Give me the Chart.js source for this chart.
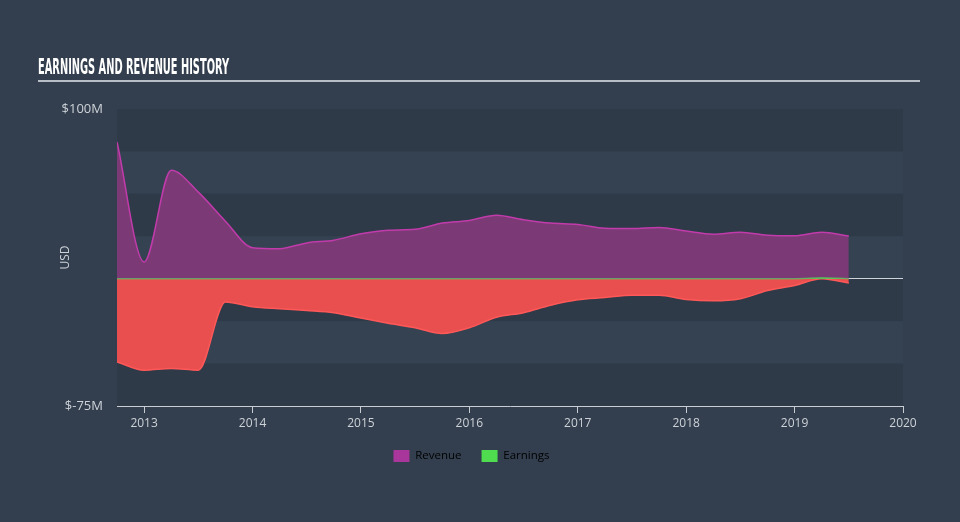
<!DOCTYPE html>
<html>
<head>
<meta charset="utf-8">
<script src="https://cdn.jsdelivr.net/npm/chart.js@4.4.1/dist/chart.umd.min.js"></script>
<style>
  body { margin: 0; background: #333f4e; }
  #wrap { position: relative; width: 960px; height: 522px; }
  canvas { position: absolute; left: 0; top: 0; }
  #title {
    position: absolute; left: 38px; top: 57px;
    font: bold 21px "Liberation Sans Narrow", "DejaVu Sans Condensed", sans-serif;
    line-height: 21px; color: #ffffff; white-space: nowrap;
    transform-origin: left top;
  }
  #rule { position: absolute; left: 38px; top: 80px; width: 882px; height: 2px; background: #b9bfc7; }
</style>
</head>
<body>
<div id="wrap">
  <canvas id="chart" width="960" height="522"></canvas>
  <div id="title">EARNINGS AND REVENUE HISTORY</div>
  <div id="rule"></div>
</div>
<script>
// quarter ends as decimal years
const quarters = [2012.75, 2013.0, 2013.25, 2013.5, 2013.75, 2014.0, 2014.25, 2014.5, 2014.75,
  2015.0, 2015.25, 2015.5, 2015.75, 2016.0, 2016.25, 2016.5, 2016.75,
  2017.0, 2017.25, 2017.5, 2017.75, 2018.0, 2018.25, 2018.5, 2018.75,
  2019.0, 2019.25, 2019.5];

// USD millions
const revenue = [80.6, 9.9, 63.9, 51.0, 33.9, 18.3, 17.7, 21.1, 22.7,
  26.5, 28.6, 29.1, 32.8, 34.3, 37.4, 34.8, 32.8,
  32.0, 29.8, 29.6, 30.2, 28.1, 26.2, 27.4, 25.6,
  25.3, 27.4, 25.2];

const earnings = [-49.0, -53.9, -52.9, -53.9, -13.7, -16.5, -17.7, -18.7, -20.0,
  -23.2, -26.2, -28.9, -32.3, -28.9, -22.7, -20.0, -15.6,
  -12.4, -11.1, -9.7, -9.7, -12.2, -13.0, -11.8, -7.0,
  -4.0, 0.5, -2.5];

const xTicks = [2013, 2014, 2015, 2016, 2017, 2018, 2019, 2020];
const yLabelled = [100, -75];
const legendNames = ["Revenue", "Earnings"];
const legendColors = ["#a9369b", "#4fdc4f"];

const textColor = "#cdd2d8";
const fontFamily = '"Open Sans", sans-serif';

const t = document.getElementById("title");
t.style.transform = "scaleX(" + (191 / t.offsetWidth) + ")";

const bands = {
  id: "bands",
  beforeDraw(chart) {
    const {ctx, chartArea: a, scales: {y}} = chart;
    ctx.save();
    let i = 0;
    for (let v = 100; v > -75; v -= 25) {
      const top = y.getPixelForValue(v);
      const bottom = y.getPixelForValue(v - 25);
      ctx.fillStyle = i % 2 ? "#344251" : "#2e3a48";
      ctx.fillRect(a.left, top, a.right - a.left, bottom - top);
      i++;
    }
    ctx.restore();
  }
};

const revenuePoints = quarters.map((q, i) => ({x: q, y: revenue[i]}));
const profitPoints = quarters.map((q, i) => ({x: q, y: Math.max(earnings[i], 0)}));
const lossPoints = quarters.map((q, i) => ({x: q, y: Math.min(earnings[i], 0)}));

new Chart(document.getElementById("chart"), {
  type: "line",
  data: {
    datasets: [
      {
        label: "Revenue",
        data: revenuePoints,
        borderColor: "#c13bab",
        backgroundColor: "#7b3a76",
        borderWidth: 1.5,
        fill: "origin",
        pointRadius: 0,
        cubicInterpolationMode: "monotone",
        order: 1
      },
      {
        label: "Earnings",
        data: profitPoints,
        borderColor: "rgba(90,200,90,0.65)",
        backgroundColor: "#4fdc4f",
        borderWidth: 1.5,
        fill: "origin",
        pointRadius: 0,
        cubicInterpolationMode: "monotone",
        order: 0
      },
      {
        label: "Loss",
        data: lossPoints,
        borderColor: "#ff5858",
        backgroundColor: "#e94f4f",
        borderWidth: 1.5,
        fill: "origin",
        pointRadius: 0,
        cubicInterpolationMode: "monotone",
        order: 2
      }
    ]
  },
  options: {
    responsive: false,
    animation: false,
    layout: { padding: { left: 40, right: 57, top: 109, bottom: 50 } },
    scales: {
      x: {
        type: "linear",
        min: 2012.75,
        max: 2020,
        afterBuildTicks: s => { s.ticks = xTicks.map(v => ({value: v})); },
        afterFit: s => { s.height = 24; },
        ticks: {
          color: textColor,
          font: { family: fontFamily, size: 12 },
          padding: 3,
          maxRotation: 0,
          autoSkip: false,
          callback: v => String(v)
        },
        grid: { drawOnChartArea: false, drawTicks: true, tickLength: 7, color: "#c8cdd3" },
        border: { display: true, color: "#c8cdd3", width: 1 }
      },
      y: {
        min: -75,
        max: 100,
        afterFit: s => { s.width = 77; },
        ticks: {
          stepSize: 25,
          color: textColor,
          font: { family: fontFamily, size: 13 },
          padding: 14,
          callback: v => yLabelled.includes(v) ? "$" + v + "M" : ""
        },
        grid: {
          drawTicks: false,
          color: c => (c.tick && c.tick.value === 0) ? "#cfd4da" : "rgba(0,0,0,0)"
        },
        border: { display: false },
        title: {
          display: true,
          text: "USD",
          color: textColor,
          font: { family: fontFamily, size: 12 },
          padding: { top: 18, bottom: 0 }
        }
      }
    },
    plugins: {
      tooltip: { enabled: false },
      legend: {
        position: "bottom",
        labels: {
          color: "#dde1e5",
          font: { family: fontFamily, size: 11.5 },
          boxWidth: 16,
          boxHeight: 12,
          padding: 20,
          generateLabels: () => legendNames.map((name, i) => ({
            text: name,
            fillStyle: legendColors[i],
            strokeStyle: legendColors[i],
            lineWidth: 0,
            hidden: false,
            datasetIndex: i
          }))
        }
      }
    }
  },
  plugins: [bands]
});
</script>
</body>
</html>
